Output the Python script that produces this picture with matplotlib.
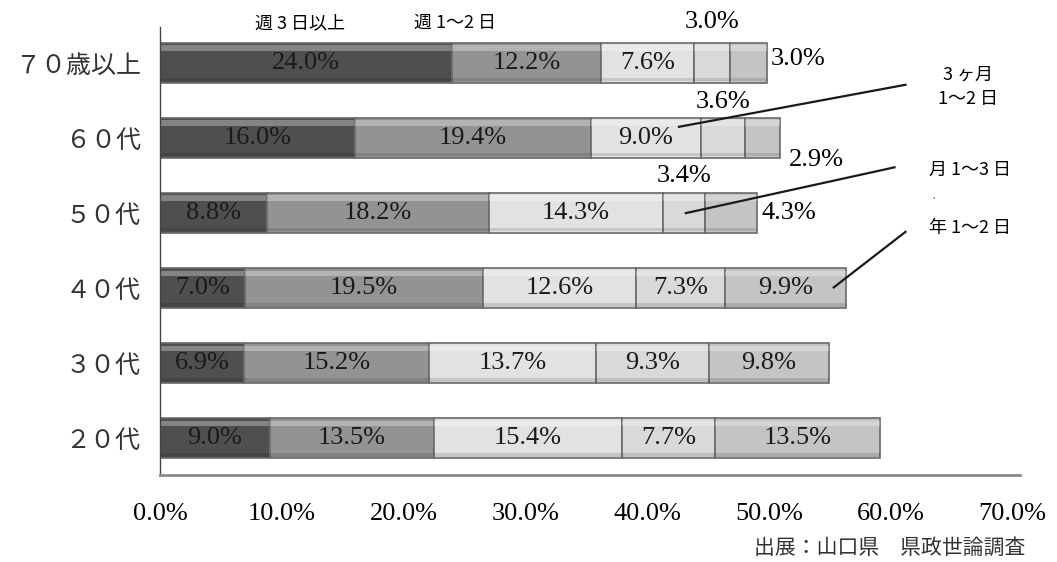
import matplotlib
matplotlib.use("Agg")
import matplotlib.pyplot as plt
import numpy as np

plt.rcParams['font.family'] = ['Noto Sans CJK JP', 'DejaVu Sans']

# age groups, bottom row first
groups = ['２０代', '３０代', '４０代', '５０代', '６０代', '７０歳以上']

# frequency shares (%) per group, one list per segment from left to right
seg1 = [9.0, 6.9, 7.0, 8.8, 16.0, 24.0]
seg2 = [13.5, 15.2, 19.5, 18.2, 19.4, 12.2]
seg3 = [15.4, 13.7, 12.6, 14.3, 9.0, 7.6]
seg4 = [7.7, 9.3, 7.3, 3.4, 3.6, 3.0]
seg5 = [13.5, 9.8, 9.9, 4.3, 2.9, 3.0]

xticks = [0, 10, 20, 30, 40, 50, 60, 70]
source = '出展：山口県　県政世論調査'

seg_colors = ['#4f4f4f', '#939393', '#e2e2e2', '#d9d9d9', '#c4c4c4']
serif = 'Liberation Serif'

fig = plt.figure(figsize=(10.57, 5.62), dpi=100)
ax = fig.add_axes([160 / 1057, 1 - 475 / 562, 860 / 1057, 448 / 562])

segs = [seg1, seg2, seg3, seg4, seg5]
y = np.arange(len(groups))
left = np.zeros(len(groups))
lefts = []
for vals, col in zip(segs, seg_colors):
    vals = np.array(vals)
    ax.barh(y, vals, left=left, height=0.53, color=col,
            edgecolor='#6a6a6a', linewidth=1.2)
    # light band along the top edge and a shade at the bottom (bevel)
    ax.barh(y + 0.2, vals, left=left, height=0.07, color='white',
            alpha=0.3, linewidth=0)
    ax.barh(y - 0.22, vals, left=left, height=0.05, color='black',
            alpha=0.12, linewidth=0)
    lefts.append(left.copy())
    left = left + vals
totals = left

# value labels inside the bars; the narrow 50s-70s end segments are
# labelled outside
outside = {(5, 3), (5, 4), (4, 3), (4, 4), (3, 3), (3, 4)}
for k, vals in enumerate(segs):
    for i, v in enumerate(vals):
        if (i, k) in outside:
            continue
        ax.text(lefts[k][i] + v / 2, y[i], f'{v:.1f}%', ha='center',
                va='center', family=serif, fontsize=19, color='#1a1a1a')

# 70s: fourth above, fifth to the right
ax.text(lefts[3][5] + seg4[5] / 2, y[5] + 0.55, f'{seg4[5]:.1f}%',
        ha='center', va='center', family=serif, fontsize=19)
ax.text(totals[5] + 0.3, y[5] + 0.06, f'{seg5[5]:.1f}%', ha='left',
        va='center', family=serif, fontsize=19)
# 60s
ax.text(lefts[3][4] + seg4[4] / 2, y[4] + 0.48, f'{seg4[4]:.1f}%',
        ha='center', va='center', family=serif, fontsize=19)
ax.text(totals[4] + 3.0, y[4] - 0.29, f'{seg5[4]:.1f}%', ha='center',
        va='center', family=serif, fontsize=19)
# 50s
ax.text(lefts[3][3] + seg4[3] / 2, y[3] + 0.49, f'{seg4[3]:.1f}%',
        ha='center', va='center', family=serif, fontsize=19)
ax.text(totals[3] + 0.4, y[3], f'{seg5[3]:.1f}%', ha='left',
        va='center', family=serif, fontsize=19)

# category captions
ax.text(11.5, 5.53, '週 3 日以上', ha='center', va='center', fontsize=13)
ax.text(24.2, 5.53, '週 1〜2 日', ha='center', va='center', fontsize=13)
ax.text(66.3, 4.68, '3 ヶ月\n1〜2 日', ha='center', va='center',
        fontsize=13, linespacing=1.45)
ax.text(66.5, 3.57, '月 1〜3 日', ha='center', va='center', fontsize=13)
ax.text(63.5, 3.2, '・', ha='center', va='center', fontsize=6, color='#777777')
ax.text(66.5, 2.8, '年 1〜2 日', ha='center', va='center', fontsize=13)

# leader lines from the captions into the bars
leaders = [
    ((lefts[2][4] + 0.8 * seg3[4], y[4] + 0.15), (61.2, 4.71)),
    ((lefts[3][3] + 0.55 * seg4[3], y[3]), (60.3, 3.61)),
    ((lefts[4][2] + 0.9 * seg5[2], y[2] + 0.01), (61.2, 2.75)),
]
for start, end in leaders:
    ax.plot([start[0], end[0]], [start[1], end[1]], color='#1a1a1a',
            linewidth=1.6, clip_on=False)

ax.set_xlim(0, 70.6)
ax.set_ylim(-0.49, 5.48)
ax.set_xticks(xticks)
ax.set_xticklabels([f'{t:.1f}%' for t in xticks], family=serif, fontsize=19)
ax.set_yticks(y)
ax.set_yticklabels(groups, fontsize=18, color='#333333')
ax.tick_params(axis='x', length=0, pad=20)
ax.tick_params(axis='y', length=0, pad=14)

for s in ['top', 'right']:
    ax.spines[s].set_visible(False)
ax.spines['left'].set_color('#444444')
ax.spines['left'].set_linewidth(1.0)
ax.spines['bottom'].set_color('#8a8a8a')
ax.spines['bottom'].set_linewidth(2.0)

fig.text(1025 / 1057, 1 - 548 / 562, source, ha='right', va='center',
         fontsize=15, color='#333333')

fig.savefig('out.png', dpi=100, facecolor='white')
